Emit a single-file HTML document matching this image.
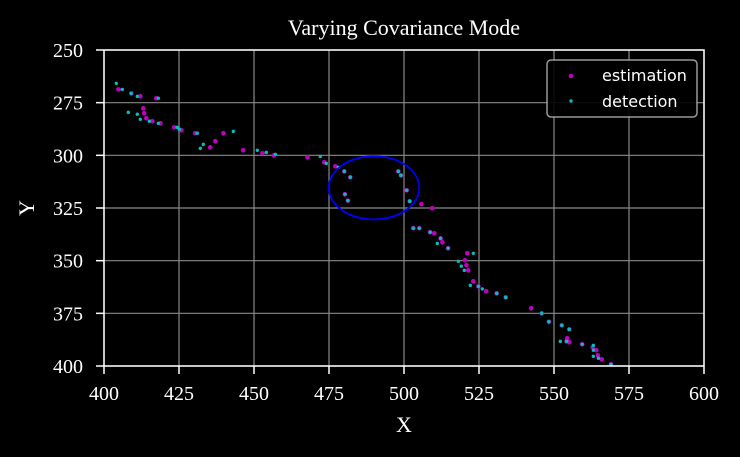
<!DOCTYPE html>
<html><head><meta charset="utf-8"><style>
html,body{margin:0;padding:0;background:#000;width:740px;height:457px;overflow:hidden}
svg text{font-family:"Liberation Serif",serif;fill:#fff}
</style></head><body>
<svg id="chart" width="740" height="457" viewBox="0 0 740 457" xmlns="http://www.w3.org/2000/svg">
<rect width="740" height="457" fill="#000"/>
<g id="grid"></g>
<g id="ticks"></g>
<g id="marks"></g>
<rect x="104" y="50" width="600" height="316" fill="none" stroke="#fff" stroke-width="1.5"/>
<text x="404" y="35" font-size="22" text-anchor="middle">Varying Covariance Mode</text>
<text x="404" y="432" font-size="22" text-anchor="middle">X</text>
<text x="34" y="208" font-size="22" text-anchor="middle" transform="rotate(-90 34 208)">Y</text>
<g>
<rect x="547" y="60" width="150" height="57" rx="4" fill="#000" stroke="#aaa" stroke-width="1.5" opacity="0.9"/>
<circle cx="571" cy="76" r="2.3" fill="#c000c0"/>
<text x="602" y="81" font-size="16" style="font-family:'DejaVu Sans',sans-serif">estimation</text>
<circle cx="571" cy="101" r="1.7" fill="#00bfbf"/>
<text x="602" y="107" font-size="16" style="font-family:'DejaVu Sans',sans-serif">detection</text>
</g>
</svg>
<script>
const xTicks=[400,425,450,475,500,525,550,575,600];
const yTicks=[250,275,300,325,350,375,400];
const estX=[404.8,409.1,412.1,417.4,413.1,413.4,414.1,416.1,418.8,423.4,425.8,430.4,439.8,437.1,435.4,446.4,452.8,456.6,467.8,473.4,477.1,480.1,482.1,480.3,481.3,498.1,499.0,500.9,501.9,505.8,509.4,503.1,505.1,508.7,510.1,512.2,512.8,514.7,521.1,520.3,520.8,521.4,523.1,524.8,527.4,530.9,533.9,542.4,545.9,548.3,552.6,555.1,554.2,554.4,555.1,559.4,562.9,564.1,564.6,565.9,569.0];
const estY=[268.7,270.6,272.0,272.9,277.7,280.0,282.4,283.8,284.8,286.7,288.1,289.5,289.5,293.3,296.2,297.6,299.0,300.0,300.9,303.3,305.2,307.6,310.4,318.5,321.5,307.6,309.5,316.6,321.8,323.2,325.1,334.6,334.6,336.5,337.0,339.4,341.3,344.1,346.5,349.8,352.2,354.6,359.8,362.2,364.5,365.5,367.4,372.6,375.0,379.0,380.7,382.6,388.3,386.8,388.7,389.7,391.1,392.5,394.9,396.8,399.2];
const detX=[404.1,406.1,409.1,411.1,418.1,408.1,411.1,412.1,415.1,418.1,424.4,425.1,431.1,443.1,433.1,432.1,451.1,454.1,457.1,472.1,474.1,478.1,480.1,482.1,480.3,481.3,498.1,499.0,500.9,501.9,503.1,505.1,508.7,512.2,511.1,514.7,523.1,518.1,519.1,520.1,522.1,524.8,526.1,530.9,533.9,545.9,548.3,552.6,555.1,552.1,554.2,559.4,563.1,563.1,563.1,564.8,569.0];
const detY=[265.8,268.7,270.6,272.0,272.9,279.6,280.5,282.9,283.8,284.8,286.7,287.6,289.5,288.6,294.8,296.7,297.6,298.6,299.5,300.5,303.8,305.7,307.6,310.4,318.5,321.5,307.6,309.5,316.6,321.8,334.6,334.6,336.5,339.4,341.8,344.1,346.5,350.3,352.6,354.6,361.7,362.2,363.4,365.5,367.4,375.0,379.0,380.7,382.6,388.3,388.3,389.7,390.2,392.5,395.4,396.3,399.2];
const ellipseC=[490,315.4], ellipseR=[15.1,15.0];
const L=104,R=704,T=50,B=366;
const sx=v=>L+(v-400)/200*(R-L);
const sy=v=>T+(v-250)/150*(B-T);
const NS='http://www.w3.org/2000/svg';
function mk(tag,attrs,parent){const e=document.createElementNS(NS,tag);for(const k in attrs)e.setAttribute(k,attrs[k]);parent.appendChild(e);return e;}
const grid=document.getElementById('grid'),ticks=document.getElementById('ticks'),marks=document.getElementById('marks');
xTicks.forEach(v=>{
 const g=mk('line',{x1:sx(v),x2:sx(v),y1:T,y2:B,stroke:'#888','stroke-width':1.2},grid);
 
 
 const t=mk('line',{x1:sx(v),x2:sx(v),y1:B,y2:B+8,stroke:'#fff','stroke-width':1.5},ticks);
 
 
 const l=mk('text',{x:sx(v),y:400,'font-size':20,'text-anchor':'middle'},ticks);
 l.textContent=v;
 
 
});
yTicks.forEach(v=>{
 const g=mk('line',{x1:L,x2:R,y1:sy(v),y2:sy(v),stroke:'#888','stroke-width':1.2},grid);
 
 
 const t=mk('line',{x1:L-8,x2:L,y1:sy(v),y2:sy(v),stroke:'#fff','stroke-width':1.5},ticks);
 
 
 const l=mk('text',{x:L-21,y:sy(v)+7,'font-size':20,'text-anchor':'end'},ticks);
 l.textContent=v;
 
 
});
estX.forEach((v,i)=>{
 const c=mk('circle',{cx:sx(v),cy:sy(estY[i]),r:2.3,fill:'#c000c0'},marks);
 
 
});
detX.forEach((v,i)=>{
 const c=mk('circle',{cx:sx(v),cy:sy(detY[i]),r:1.7,fill:'#00bfbf'},marks);
 
 
});
const el=mk('ellipse',{cx:sx(ellipseC[0]),cy:sy(ellipseC[1]),rx:sx(400+ellipseR[0])-L,ry:sy(250+ellipseR[1])-T,fill:'none',stroke:'#0000ff','stroke-width':1.8},marks);


</script>
</body></html>
